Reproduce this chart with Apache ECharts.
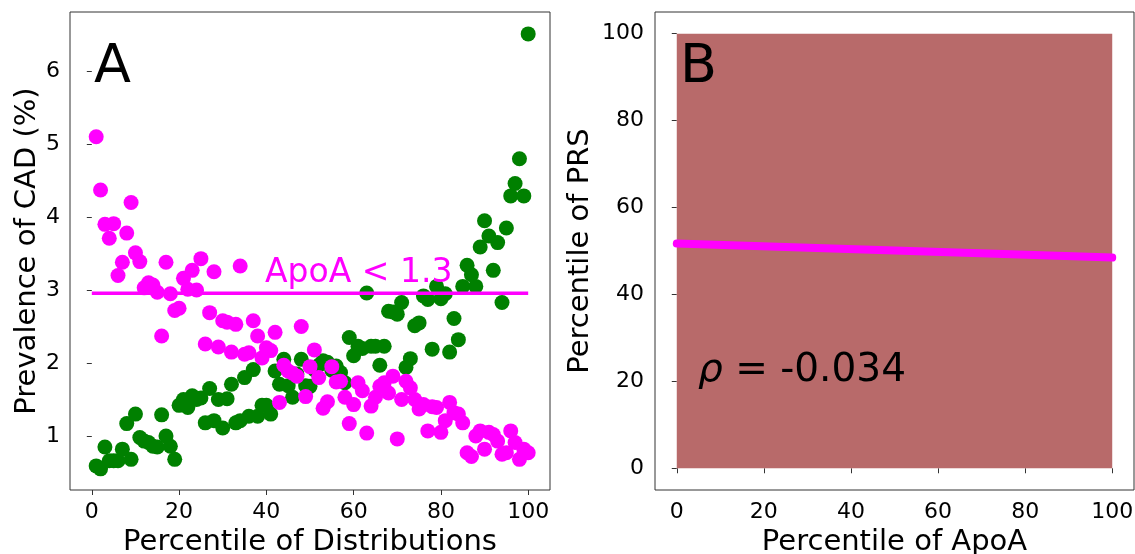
<!DOCTYPE html>
<html>
<head>
<meta charset="utf-8">
<script src="https://cdn.jsdelivr.net/npm/echarts@6/dist/echarts.min.js"></script>
<style>
  html, body { margin: 0; padding: 0; background: #fff; }
  #main { width: 1135px; height: 554px; }
</style>
</head>
<body>
<div id="main"></div>
<script>
// percentile bins (x of panel A)
const percentiles = [
  1, 2, 3, 4, 5, 6, 7, 8, 9, 10, 11, 12, 13, 14, 15, 16, 17, 18, 19, 20,
  21, 22, 23, 24, 25, 26, 27, 28, 29, 30, 31, 32, 33, 34, 35, 36, 37, 38, 39, 40,
  41, 42, 43, 44, 45, 46, 47, 48, 49, 50, 51, 52, 53, 54, 55, 56, 57, 58, 59, 60,
  61, 62, 63, 64, 65, 66, 67, 68, 69, 70, 71, 72, 73, 74, 75, 76, 77, 78, 79, 80,
  81, 82, 83, 84, 85, 86, 87, 88, 89, 90, 91, 92, 93, 94, 95, 96, 97, 98, 99, 100
];

// prevalence of CAD (%) per ApoA percentile (magenta)
const apoaPrevalence = [
  5.10, 4.37, 3.90, 3.71, 3.91, 3.20, 3.38, 3.78, 4.20, 3.51,
  3.39, 3.03, 3.10, 3.07, 2.97, 2.37, 3.38, 2.95, 2.72, 2.75,
  3.16, 3.01, 3.27, 3.00, 3.43, 2.26, 2.69, 3.25, 2.22, 2.58,
  2.56, 2.15, 2.53, 3.33, 2.12, 2.14, 2.58, 2.37, 2.07, 2.21,
  2.17, 2.42, 1.46, 1.97, 1.89, 1.86, 1.82, 2.50, 1.54, 1.95,
  2.18, 1.80, 1.38, 1.47, 1.95, 1.74, 1.75, 1.53, 1.17, 1.43,
  1.73, 1.62, 1.04, 1.41, 1.53, 1.68, 1.73, 1.59, 1.82, 0.96,
  1.50, 1.75, 1.66, 1.50, 1.37, 1.43, 1.07, 1.40, 1.39, 1.05,
  1.21, 1.46, 1.32, 1.30, 1.18, 0.77, 0.72, 1.00, 1.07, 0.82,
  1.05, 1.02, 0.93, 0.75, 0.77, 1.07, 0.91, 0.68, 0.82, 0.77
];

// prevalence of CAD (%) per PRS percentile (green)
const prsPrevalence = [
  0.59, 0.55, 0.85, 0.66, 0.66, 0.66, 0.82, 1.17, 0.68, 1.30,
  0.98, 0.93, 0.91, 0.86, 0.85, 1.29, 1.00, 0.86, 0.68, 1.42,
  1.50, 1.39, 1.55, 1.50, 1.52, 1.18, 1.65, 1.21, 1.50, 1.11,
  1.51, 1.71, 1.18, 1.21, 1.80, 1.27, 1.91, 1.27, 1.42, 1.42,
  1.30, 1.89, 1.71, 2.05, 1.69, 1.53, 1.85, 2.05, 1.69, 1.68,
  1.91, 1.97, 2.03, 2.01, 1.90, 1.96, 1.87, 1.73, 2.35, 2.10,
  2.23, 2.20, 2.96, 2.23, 2.23, 1.97, 2.23, 2.71, 2.70, 2.67,
  2.83, 1.94, 2.06, 2.51, 2.55, 2.92, 2.87, 2.19, 3.05, 2.88,
  2.95, 2.15, 2.61, 2.32, 3.05, 3.34, 3.21, 3.05, 3.59, 3.95,
  3.74, 3.27, 3.65, 2.83, 3.85, 4.29, 4.46, 4.80, 4.29, 6.51
];

// overall prevalence for ApoA < 1.3 (horizontal line)
const apoaCutPrevalence = 2.955;
const apoaCutLabel = 'ApoA < 1.3';

// panel B: percentile cloud extent and fitted line
const cloudX = [0, 100];
const cloudY = [0, 100];
const fitX = [0, 100];
const fitY = [51.7, 48.5];
const rhoValue = '-0.034';

const xTicks = [0, 20, 40, 60, 80, 100];
const yTicksA = [1, 2, 3, 4, 5, 6];
const yTicksB = [0, 20, 40, 60, 80, 100];

const FONT = 'DejaVu Sans';

function axis(gridIndex, min, max, ticks, name, nameGap, labelMargin) {
  return {
    type: 'value',
    gridIndex: gridIndex,
    min: min,
    max: max,
    name: name,
    nameLocation: 'middle',
    nameGap: nameGap,
    nameTextStyle: { fontFamily: FONT, fontSize: 29, color: '#000' },
    axisLine: { show: false },
    splitLine: { show: false },
    axisTick: { show: true, inside: false, length: 5, customValues: ticks,
      lineStyle: { color: '#333', width: 1 } },
    axisLabel: { customValues: ticks, margin: labelMargin,
      fontFamily: FONT, fontSize: 22, color: '#000' }
  };
}

const chart = echarts.init(document.getElementById('main'));

const option = {
  animation: false,
  backgroundColor: '#fff',
  grid: [
    { left: 70, top: 12, width: 480, height: 478, show: true, outerBoundsMode: 'none',
      borderColor: '#333', borderWidth: 1, backgroundColor: 'transparent' },
    { left: 655, top: 12, width: 479, height: 478, show: true, outerBoundsMode: 'none',
      borderColor: '#333', borderWidth: 1, backgroundColor: 'transparent' }
  ],
  xAxis: [
    axis(0, -5, 105, xTicks, 'Percentile of Distributions', 33, 11),
    axis(1, -5, 105, xTicks, 'Percentile of ApoA', 33, 11)
  ],
  yAxis: [
    axis(0, 0.26, 6.81, yTicksA, 'Prevalence of CAD (%)', 25, 10),
    axis(1, -5, 105, yTicksB, 'Percentile of PRS', 60, 11)
  ],
  series: [
    {
      type: 'scatter', xAxisIndex: 0, yAxisIndex: 0,
      symbolSize: 15,
      itemStyle: { color: '#008000', opacity: 1 },
      data: percentiles.map((p, i) => [p, prsPrevalence[i]]),
      z: 2
    },
    {
      type: 'scatter', xAxisIndex: 0, yAxisIndex: 0,
      symbolSize: 15,
      itemStyle: { color: '#ff00ff', opacity: 1 },
      data: percentiles.map((p, i) => [p, apoaPrevalence[i]]),
      z: 3
    },
    {
      type: 'line', xAxisIndex: 0, yAxisIndex: 0,
      symbol: 'none',
      lineStyle: { color: '#ff00ff', width: 3.5 },
      data: [[0, apoaCutPrevalence], [100, apoaCutPrevalence]],
      z: 4
    },
    {
      // the dense percentile cloud, drawn as its filled extent
      type: 'scatter', xAxisIndex: 1, yAxisIndex: 1,
      data: [],
      markArea: {
        silent: true,
        itemStyle: { color: '#b86a6a', opacity: 1 },
        data: [[{ coord: [cloudX[0], cloudY[0]] }, { coord: [cloudX[1], cloudY[1]] }]]
      },
      z: 1
    },
    {
      type: 'line', xAxisIndex: 1, yAxisIndex: 1,
      symbol: 'none',
      lineStyle: { color: '#ff00ff', width: 8, cap: 'round' },
      data: fitX.map((x, i) => [x, fitY[i]]),
      z: 5
    }
  ],
  graphic: [
    { type: 'text', left: 94, top: 41, z: 10,
      style: { text: 'A', font: '54px "DejaVu Sans"', fill: '#000' } },
    { type: 'text', left: 265, top: 257, z: 10,
      style: { text: apoaCutLabel, font: '33px "DejaVu Sans"', fill: '#ff00ff' } },
    { type: 'text', left: 680, top: 41, z: 10,
      style: { text: 'B', font: '54px "DejaVu Sans"', fill: '#000' } },
    { type: 'text', left: 698, top: 351, z: 10,
      style: {
        text: '{r|ρ} = ' + rhoValue,
        font: '39px "DejaVu Sans"', fill: '#000',
        rich: { r: { fontStyle: 'italic', fontFamily: FONT, fontSize: 39, fill: '#000' } }
      } }
  ]
};

chart.setOption(option);
</script>
</body>
</html>
